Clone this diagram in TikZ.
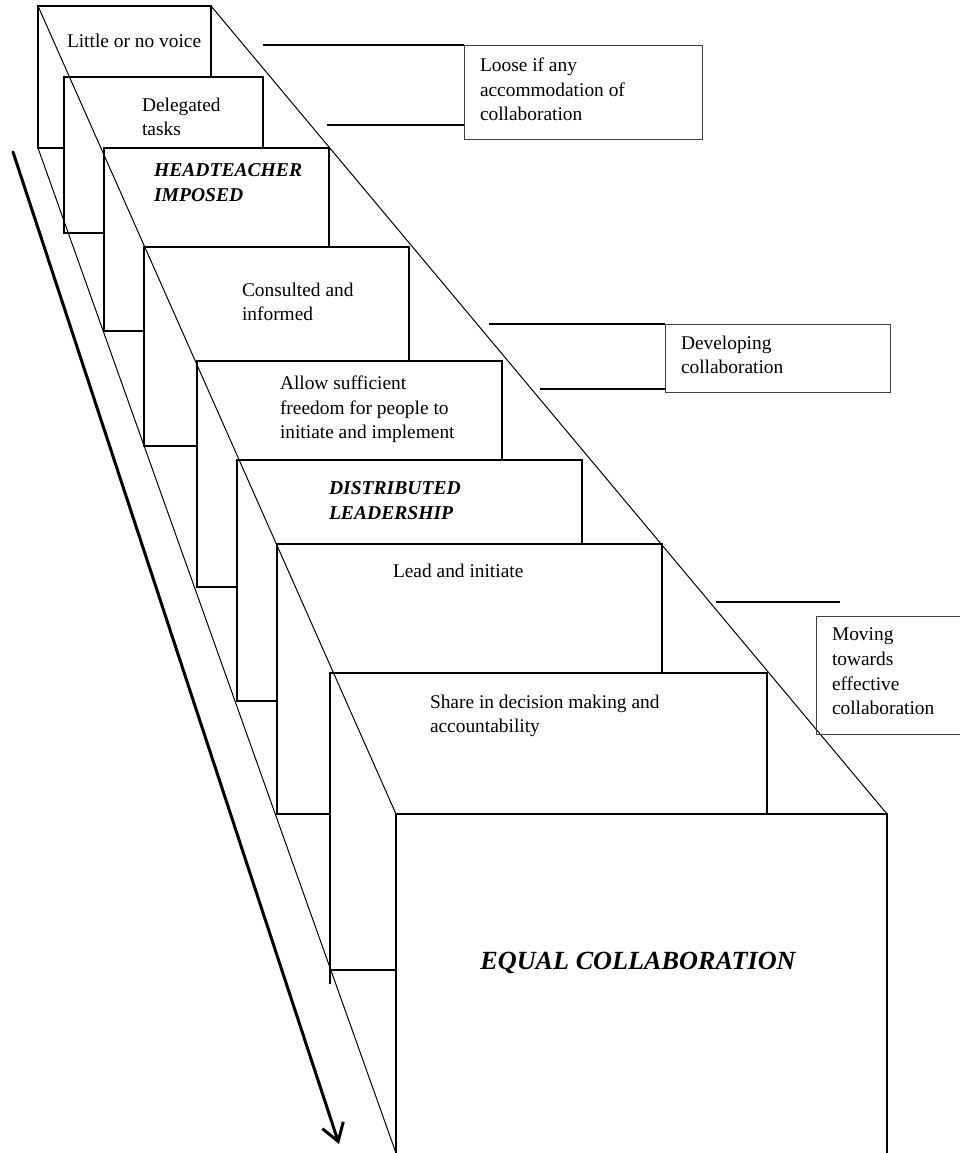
\documentclass[tikz,border=0pt]{standalone}
\usepackage{fontspec}
\setmainfont{Liberation Serif}
\usetikzlibrary{arrows.meta}
\begin{document}
\begin{tikzpicture}[x=1pt,y=-1pt,
  face/.style={draw, fill=white, line width=1.4pt, anchor=north west, inner sep=0pt, outer sep=0pt},
  txt/.style={anchor=north west, inner sep=0pt, outer sep=0pt, align=left, font=\fontsize{19.4}{24.8}\selectfont, execute at begin node=\strut},
  btxt/.style={txt, font=\fontsize{19.6}{24.8}\selectfont\bfseries\itshape},
  note/.style={draw=black!75, line width=0.9pt, anchor=north west, inner sep=0pt, outer sep=0pt},
  diag/.style={line width=1pt},
  lead/.style={line width=1.4pt}]
\useasboundingbox (0,0) rectangle (960,1153);
\clip (0,0) rectangle (960,1153);

% step faces
\node[face, minimum width=173pt, minimum height=142pt] (f1) at (38,6) {};
\node[txt] (t1) at (67,30.6) {Little or no voice};
\node[face, minimum width=199pt, minimum height=156pt] (f2) at (64,77) {};
\node[txt] (t2) at (142,97.6) {Delegated\\tasks};
\node[face, minimum width=225pt, minimum height=183pt] (f3) at (104,148) {};
\node[btxt] (t3) at (154,163.6) {HEADTEACHER\\IMPOSED};
\node[face, minimum width=265pt, minimum height=199pt] (f4) at (144,247) {};
\node[txt] (t4) at (242,282.6) {Consulted and\\informed};
\node[face, minimum width=305pt, minimum height=226pt] (f5) at (197,361) {};
\node[txt] (t5) at (280,375.6) {Allow sufficient\\freedom for people to\\initiate and implement};
\node[face, minimum width=345pt, minimum height=241pt] (f6) at (237,460) {};
\node[btxt] (t6) at (329,481.6) {DISTRIBUTED\\LEADERSHIP};
\node[face, minimum width=385pt, minimum height=270pt] (f7) at (277,544) {};
\node[txt] (t7) at (393,560.6) {Lead and initiate};
\node[face, minimum width=437pt, minimum height=297pt] (f8) at (330,673) {};
\draw[lead] (f8.south west) -- ++(0,14);
\node[txt] (t8) at (430,694.6) {Share in decision making and\\accountability};
\node[face, minimum width=491pt, minimum height=370pt] (f9) at (396,814) {};
\node[anchor=base, inner sep=0pt, font=\fontsize{26.2}{30}\selectfont\bfseries\itshape] (t9) at (638,969) {EQUAL COLLABORATION};

% diagonals
\coordinate (bl) at (396,1153);
\draw[diag] (f1.north west) -- (f9.north west);
\draw[diag] (f1.south west) -- (bl);
\draw[diag] (f1.north east) -- (f9.north east);

% thick arrow
\coordinate (a1) at (13,152);
\coordinate (a2) at (339,1144);
\draw[line width=3pt, line cap=round, -{Straight Barb[length=17pt,width=22pt,line width=3pt]}] (a1) -- (a2);

% notes
\node[note, minimum width=238pt, minimum height=94pt] (n1) at (464,45) {};
\node[txt] (n1t) at (480,57.6) {Loose if any\\accommodation of\\collaboration};
\coordinate (c1) at (263,45);
\coordinate (c2) at (327,125);
\draw[lead] (c1) -- (n1.north west);
\draw[lead] (c2) -- (c2 -| n1.west);

\node[note, minimum width=225pt, minimum height=68pt] (n2) at (665,324) {};
\node[txt] (n2t) at (681,335.6) {Developing\\collaboration};
\coordinate (c3) at (489,324);
\coordinate (c4) at (540,389);
\draw[lead] (c3) -- (n2.north west);
\draw[lead] (c4) -- (c4 -| n2.west);

\node[note, minimum width=170pt, minimum height=118pt] (n3) at (816,616) {};
\node[txt] (n3t) at (832,627.6) {Moving\\towards\\effective\\collaboration};
\coordinate (c5) at (716,602);
\coordinate (c6) at (840,602);
\draw[lead] (c5) -- (c6);
\end{tikzpicture}
\end{document}
